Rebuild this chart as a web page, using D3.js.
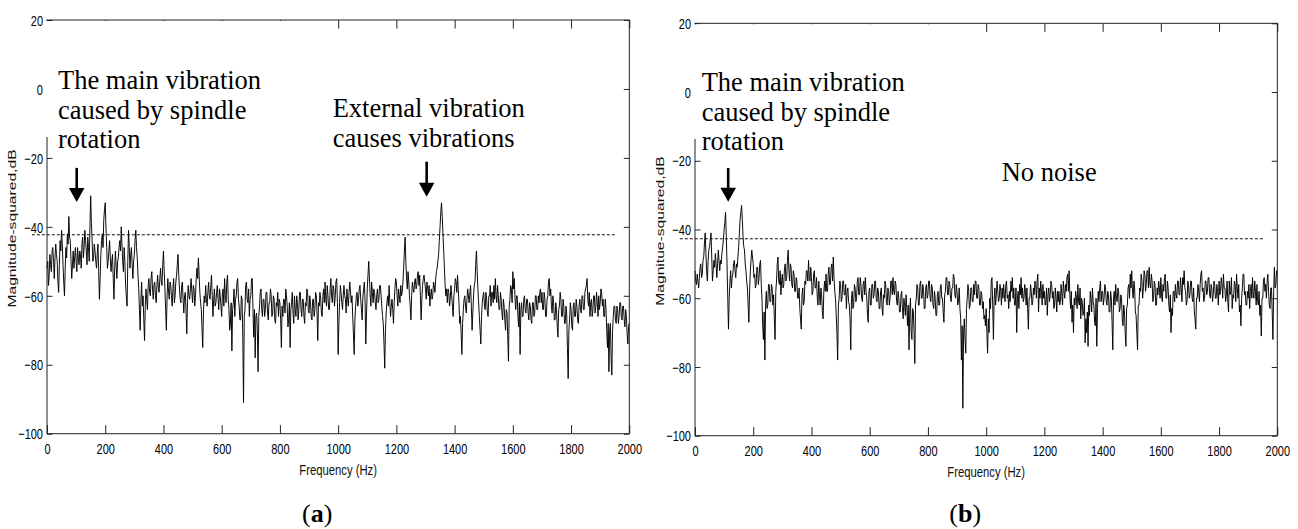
<!DOCTYPE html>
<html><head><meta charset="utf-8">
<script src="https://cdn.jsdelivr.net/npm/d3@7"></script>
<style>body{margin:0;background:#fff} svg{display:block}</style>
</head><body><svg id="c" width="1298" height="529"></svg>
<script>
// ---------- DATA ----------
const xTickValues = [0,200,400,600,800,1000,1200,1400,1600,1800,2000];
const yTickValues = [-100,-80,-60,-40,-20,0,20];
const freqStepHz = 2.5;         // spectrum bin spacing (Hz)
const xAxisTitle = "Frequency (Hz)";
const yAxisTitles = ["Magnitude-squared,dB", "Magnitue-squared,dB"];
const panelLetters = ["a", "b"];
const thresholdsDb = [-42.3, -42.7];
const thresholdSpanHz = [-52, 1955];

// panel (a): spindle + external vibration (dB), 0..2000 Hz
const spectrumA = [
-52,-50,-57,-54,-48,-51,-53,-47,-46,-50, -55,-49,-45,-48,-50,-56,-59,-51,-44,-47,
-41,-45,-51,-56,-60,-52,-46,-49,-42,-45, -37,-43,-44,-50,-55,-51,-47,-52,-49,-46,
-50,-53,-46,-49,-51,-47,-48,-52,-45,-43, -49,-46,-41,-44,-47,-51,-43,-46,-50,-40,
-31,-39,-44,-50,-49,-45,-47,-50,-52,-48, -45,-53,-61,-55,-48,-44,-42,-46,-38,-35,
-33,-40,-46,-52,-50,-47,-44,-49,-53,-50, -48,-55,-61,-52,-47,-51,-55,-50,-49,-46,
-44,-47,-40,-45,-50,-53,-46,-50,-57,-60, -63,-50,-41,-46,-52,-48,-46,-51,-55,-50,
-48,-44,-41,-46,-49,-54,-58,-64,-70,-61, -56,-63,-60,-67,-73,-63,-58,-61,-64,-57,
-55,-59,-60,-55,-53,-58,-61,-57,-56,-60, -62,-57,-54,-58,-59,-55,-52,-56,-57,-51,
-47,-53,-58,-64,-70,-60,-55,-59,-61,-56, -57,-60,-63,-58,-55,-62,-60,-56,-54,-51,
-48,-54,-58,-61,-62,-57,-56,-61,-65,-60, -59,-64,-71,-62,-57,-60,-61,-58,-55,-59,
-62,-57,-58,-63,-60,-55,-52,-55,-49,-54, -59,-62,-64,-70,-75,-64,-60,-62,-57,-61,
-63,-59,-56,-60,-61,-57,-54,-60,-66,-61, -58,-63,-62,-59,-57,-61,-64,-58,-60,-63,
-66,-59,-58,-63,-55,-60,-62,-56,-54,-61, -64,-70,-68,-62,-76,-64,-62,-58,-66,-61,
-60,-56,-55,-61,-63,-67,-67,-60,-61,-72, -91,-66,-64,-57,-56,-61,-62,-58,-66,-61,
-60,-55,-55,-64,-72,-64,-78,-66,-65,-70, -82,-66,-63,-59,-58,-64,-66,-61,-61,-66,
-64,-59,-59,-65,-67,-62,-62,-58,-60,-66, -65,-60,-61,-67,-68,-62,-63,-59,-66,-61,
-62,-67,-75,-63,-66,-61,-61,-65,-58,-60, -63,-69,-67,-62,-75,-64,-62,-59,-65,-68,
-60,-64,-66,-60,-62,-67,-64,-59,-59,-64, -66,-61,-61,-66,-68,-62,-63,-58,-59,-64,
-65,-60,-62,-66,-67,-61,-61,-66,-64,-59, -60,-65,-73,-62,-63,-59,-61,-65,-66,-60,
-58,-62,-56,-61,-63,-57,-60,-64,-64,-58, -55,-60,-62,-57,-58,-63,-60,-56,-55,-62,
-77,-68,-62,-57,-59,-62,-64,-60,-57,-60, -61,-65,-58,-61,-63,-59,-56,-59,-62,-60,
-66,-71,-77,-67,-63,-60,-59,-63,-61,-58, -57,-61,-64,-67,-60,-58,-56,-62,-74,-65,
-58,-54,-50,-55,-60,-63,-56,-59,-62,-58, -59,-62,-64,-60,-58,-62,-61,-57,-57,-60,
-63,-66,-68,-74,-81,-70,-65,-62,-60,-63, -57,-62,-66,-63,-61,-64,-68,-62,-58,-55,
-56,-60,-63,-58,-60,-62,-57,-60,-59,-56, -52,-47,-43,-50,-55,-58,-53,-56,-60,-63,
-67,-60,-56,-58,-59,-56,-55,-58,-57,-54, -53,-57,-54,-60,-67,-61,-57,-55,-54,-56,
-58,-61,-56,-58,-60,-57,-63,-60,-58,-61, -60,-56,-57,-59,-55,-53,-52,-50,-48,-44,
-40,-36,-33,-37,-42,-47,-52,-57,-60,-58, -62,-58,-59,-63,-61,-57,-60,-63,-66,-60,
-58,-55,-56,-59,-54,-58,-62,-68,-66,-71, -77,-68,-64,-61,-60,-63,-65,-61,-58,-60,
-62,-59,-57,-63,-70,-65,-60,-57,-56,-51, -47,-53,-58,-62,-66,-70,-74,-66,-62,-60,
-59,-63,-64,-59,-61,-65,-66,-60,-60,-57, -63,-59,-59,-62,-57,-61,-55,-60,-62,-57,
-60,-64,-64,-59,-61,-65,-67,-61,-63,-67, -70,-64,-65,-72,-79,-63,-61,-57,-58,-62,
-53,-58,-55,-61,-64,-60,-60,-66,-69,-62, -77,-64,-62,-66,-66,-61,-60,-64,-65,-61,
-61,-65,-67,-62,-63,-67,-68,-62,-62,-66, -65,-60,-60,-64,-64,-60,-62,-59,-58,-62,
-59,-64,-64,-59,-61,-66,-66,-61,-60,-56, -55,-60,-58,-63,-65,-60,-62,-67,-67,-62,
-64,-69,-72,-64,-63,-59,-61,-66,-66,-61, -63,-68,-68,-63,-65,-75,-84,-70,-67,-62,
-64,-69,-70,-63,-62,-66,-66,-61,-63,-67, -68,-63,-61,-64,-65,-60,-60,-64,-64,-59,
-58,-57,-55,-61,-63,-59,-66,-62,-61,-66, -64,-60,-60,-65,-63,-59,-62,-66,-60,-64,
-62,-58,-59,-63,-61,-66,-66,-61,-64,-70, -75,-68,-82,-70,-68,-78,-83,-70,-66,-63,
-63,-67,-68,-63,-64,-68,-66,-62,-62,-66, -67,-63,-63,-67,-69,-64,-66,-71,-74,-69,
-68
];

// panel (b): spindle only, no noise (dB), 0..2000 Hz
const spectrumB = [
-52,-55,-56,-53,-55,-57,-54,-51,-50,-54, -53,-49,-48,-44,-41,-47,-52,-55,-49,-46,
-45,-43,-41,-48,-55,-52,-49,-51,-47,-50, -54,-50,-46,-49,-52,-49,-50,-47,-45,-43,
-40,-38,-35,-42,-50,-60,-69,-60,-55,-52, -57,-54,-53,-50,-49,-52,-54,-50,-51,-48,
-45,-41,-37,-35,-33,-37,-42,-45,-46,-50, -52,-55,-57,-62,-67,-58,-52,-49,-46,-48,
-50,-54,-53,-57,-56,-51,-51,-56,-54,-50, -49,-56,-60,-68,-72,-64,-78,-62,-58,-63,
-62,-56,-56,-61,-61,-56,-57,-62,-59,-66, -72,-58,-55,-50,-48,-55,-56,-52,-59,-55,
-53,-57,-56,-51,-50,-55,-54,-49,-46,-52, -55,-50,-51,-56,-57,-52,-53,-58,-58,-54,
-55,-60,-60,-57,-63,-66,-69,-59,-57,-62, -61,-55,-56,-52,-52,-55,-49,-54,-55,-51,
-54,-59,-58,-53,-52,-57,-57,-54,-60,-62, -55,-59,-62,-57,-59,-64,-66,-58,-55,-58,
-53,-58,-58,-53,-51,-56,-56,-51,-50,-55, -48,-54,-58,-60,-65,-70,-78,-62,-60,-55,
-56,-61,-60,-55,-55,-59,-59,-56,-63,-58, -57,-61,-62,-66,-75,-60,-58,-63,-62,-56,
-57,-61,-60,-55,-54,-59,-59,-54,-56,-60, -61,-56,-55,-59,-54,-58,-60,-65,-67,-58,
-57,-62,-62,-56,-56,-60,-59,-55,-55,-60, -61,-57,-58,-63,-63,-58,-57,-63,-65,-59,
-60,-55,-56,-61,-62,-57,-58,-62,-60,-55, -55,-59,-54,-58,-59,-55,-56,-61,-62,-58,
-60,-64,-64,-59,-58,-63,-66,-60,-62,-65, -59,-63,-68,-62,-75,-64,-60,-70,-72,-63,
-64,-70,-79,-62,-60,-56,-57,-62,-62,-56, -55,-60,-60,-56,-58,-63,-63,-57,-56,-60,
-59,-55,-55,-60,-61,-56,-57,-62,-63,-58, -60,-65,-65,-59,-58,-62,-62,-57,-56,-60,
-60,-64,-67,-59,-58,-54,-54,-59,-59,-55, -56,-60,-61,-57,-57,-53,-54,-59,-60,-56,
-58,-62,-61,-57,-63,-66,-78,-68,-92,-70, -66,-72,-76,-63,-60,-56,-58,-63,-62,-57,
-57,-61,-61,-56,-59,-55,-55,-60,-60,-56, -57,-62,-62,-58,-59,-63,-61,-66,-65,-68,
-63,-70,-76,-66,-70,-60,-63,-55,-54,-62, -72,-60,-57,-62,-59,-55,-58,-61,-60,-56,
-58,-62,-57,-60,-56,-59,-61,-56,-55,-60, -59,-63,-58,-61,-55,-58,-54,-60,-57,-62,
-62,-57,-70,-60,-58,-63,-56,-59,-54,-60, -57,-61,-60,-56,-58,-62,-57,-63,-69,-60,
-60,-56,-58,-62,-61,-57,-59,-55,-56,-60, -55,-53,-64,-57,-60,-55,-58,-62,-56,-60,
-58,-62,-61,-57,-65,-59,-57,-61,-59,-55, -56,-60,-58,-63,-62,-57,-60,-64,-58,-61,
-58,-62,-61,-56,-59,-62,-55,-58,-60,-56, -58,-54,-53,-58,-52,-59,-63,-58,-67,-62,
-70,-60,-62,-58,-60,-63,-56,-61,-62,-57, -66,-60,-61,-65,-64,-60,-73,-66,-70,-64,
-74,-62,-65,-58,-60,-64,-57,-61,-62,-67, -68,-60,-74,-63,-58,-61,-57,-55,-61,-58,
-58,-62,-60,-56,-57,-61,-62,-58,-59,-64, -64,-58,-60,-67,-75,-60,-58,-62,-56,-60,
-61,-57,-58,-64,-63,-59,-60,-66,-68,-62, -64,-70,-74,-63,-62,-57,-56,-60,-53,-57,
-52,-58,-60,-55,-57,-64,-65,-70,-75,-62, -62,-57,-58,-53,-55,-60,-57,-52,-53,-58,
-56,-52,-52,-57,-51,-56,-57,-53,-55,-61, -60,-55,-56,-62,-62,-57,-59,-55,-57,-60,
-54,-59,-61,-56,-58,-54,-53,-60,-60,-55, -57,-62,-64,-59,-70,-63,-65,-58,-58,-61,
-56,-59,-60,-55,-55,-59,-59,-54,-57,-61, -54,-56,-52,-57,-58,-62,-61,-55,-56,-60,
-59,-55,-55,-60,-61,-57,-64,-66,-69,-60, -60,-56,-58,-61,-56,-53,-52,-58,-57,-61,
-60,-55,-55,-59,-58,-54,-54,-59,-60,-56, -57,-61,-59,-55,-56,-60,-60,-56,-58,-62,
-55,-59,-58,-54,-56,-60,-53,-57,-57,-61, -59,-55,-61,-64,-55,-59,-58,-54,-63,-59,
-60,-55,-56,-61,-53,-57,-60,-56,-64,-62, -68,-60,-57,-53,-53,-59,-58,-62,-62,-58,
-60,-56,-63,-58,-56,-60,-54,-59,-60,-55, -58,-62,-56,-61,-62,-58,-65,-62,-71,-60,
-60,-55,-54,-58,-56,-60,-55,-53,-58,-62, -63,-57,-57,-64,-72,-58,-51,-57,-56,-52,
-53
];

// annotation texts
const notesA = [
  ["The main vibration", "caused by spindle", "rotation"],
  ["External vibration", "causes vibrations"]
];
const notesB = [
  ["The main vibration", "caused by spindle", "rotation"],
  ["No noise"]
];

// ---------- LAYOUT ----------
const svg = d3.select("#c");
const SANS = "'Liberation Sans', Arial, Helvetica, sans-serif";
const SERIF = "'Liberation Serif', 'Times New Roman', serif";
const VS = 1.36; // vertical stretch of the axis fonts in the original picture

const panels = [
  {left:47, right:629.3, top:20, bottom:433.7, data:spectrumA, thr:thresholdsDb[0],
   yTitle:yAxisTitles[0], yTitleX:16, yTitleY:228.5, letter:panelLetters[0],
   mask:{x0:45.5, x1:300, y0:21, y1:137},
   notes:[{lines:notesA[0], x:58, y:[88.5,118.5,148]},
          {lines:notesA[1], x:332.7, y:[117,146.7]}],
   arrows:[{f:102, from:-22.9, to:-32.8},{f:1304, from:-21.1, to:-31.3}]},
  {left:695, right:1277.3, top:23.3, bottom:435.7, data:spectrumB, thr:thresholdsDb[1],
   yTitle:yAxisTitles[1], yTitleX:664, yTitleY:231, letter:panelLetters[1],
   mask:{x0:693.5, x1:950, y0:24.3, y1:139},
   notes:[{lines:notesB[0], x:701.7, y:[90.5,120.5,150]},
          {lines:notesB[1], x:1001.7, y:[180.5]}],
   arrows:[{f:114, from:-22.1, to:-31.9}]}
];

panels.forEach(p => {
  const x = d3.scaleLinear().domain([0, 2000]).range([p.left, p.right]);
  const y = d3.scaleLinear().domain([-100, 20]).range([p.bottom, p.top]);
  const g = svg.append("g");

  // spectrum line
  const line = d3.line().x((d, i) => x(i * freqStepHz)).y(d => y(d));
  g.append("path").datum(p.data).attr("d", line)
    .attr("fill", "none").attr("stroke", "#000").attr("stroke-width", 0.95);

  // axes with inward ticks on all four sides
  const styleAxis = sel => { sel.select(".domain").remove();
    sel.selectAll(".tick line").attr("stroke", "#222").attr("stroke-width", 1); };

  const bottom = g.append("g").attr("transform", `translate(0,${p.bottom})`)
    .call(d3.axisBottom(x).tickValues(xTickValues).tickSizeInner(-8.5).tickSizeOuter(0).tickFormat(d3.format("d")));
  styleAxis(bottom);
  bottom.selectAll(".tick text").attr("y", 0).attr("dy", 0)
    .attr("transform", `translate(0,20.3) scale(1,${VS})`)
    .attr("font-family", SANS).attr("font-size", 11).attr("fill", "#000");

  const top = g.append("g").attr("transform", `translate(0,${p.top})`)
    .call(d3.axisTop(x).tickValues(xTickValues).tickSizeInner(-8.5).tickSizeOuter(0).tickFormat(""));
  styleAxis(top);

  const leftAx = g.append("g").attr("transform", `translate(${p.left},0)`)
    .call(d3.axisLeft(y).tickValues(yTickValues).tickSizeInner(-5.5).tickSizeOuter(0).tickFormat(d3.format("d")));
  styleAxis(leftAx);
  leftAx.selectAll(".tick text").attr("x", 0).attr("dy", 0).attr("y", 0)
    .attr("transform", `translate(-4,5.2) scale(1,${VS})`)
    .attr("font-family", SANS).attr("font-size", 11).attr("fill", "#000");

  const rightAx = g.append("g").attr("transform", `translate(${p.right},0)`)
    .call(d3.axisRight(y).tickValues(yTickValues).tickSizeInner(-5.5).tickSizeOuter(0).tickFormat(""));
  styleAxis(rightAx);

  // box
  g.append("rect").attr("x", p.left).attr("y", p.top)
    .attr("width", p.right - p.left).attr("height", p.bottom - p.top)
    .attr("fill", "none").attr("stroke", "#222").attr("stroke-width", 1);

  // threshold dashed line
  g.append("line")
    .attr("x1", x(thresholdSpanHz[0])).attr("x2", x(thresholdSpanHz[1]))
    .attr("y1", y(p.thr)).attr("y2", y(p.thr))
    .attr("stroke", "#111").attr("stroke-width", 1).attr("stroke-dasharray", "3,2");

  // axis titles
  g.append("text").text(xAxisTitle)
    .attr("transform", `translate(${(p.left + p.right) / 2},${p.bottom + 41}) scale(1,${VS})`)
    .attr("text-anchor", "middle").attr("font-family", SANS).attr("font-size", 11.3).attr("fill", "#111");
  g.append("text").text(p.yTitle)
    .attr("transform", `translate(${p.yTitleX},${p.yTitleY}) rotate(-90) scale(${VS},1)`)
    .attr("text-anchor", "middle").attr("font-family", SANS).attr("font-size", 11.5).attr("fill", "#111");

  // white text box of the annotation (hides the axis line under it)
  g.append("rect").attr("x", p.mask.x0).attr("y", p.mask.y0)
    .attr("width", p.mask.x1 - p.mask.x0).attr("height", p.mask.y1 - p.mask.y0)
    .attr("fill", "#fff");

  // annotation texts
  p.notes.forEach(n => {
    n.lines.forEach((t, i) => {
      g.append("text").text(t).attr("x", n.x).attr("y", n.y[i])
        .attr("font-family", SERIF).attr("font-size", 26.5).attr("fill", "#000");
    });
  });

  // arrows
  p.arrows.forEach(a => {
    const ax = x(a.f), y0 = y(a.from), yTip = y(a.to), headLen = 14, half = 7.8;
    g.append("line").attr("x1", ax).attr("x2", ax).attr("y1", y0).attr("y2", yTip - headLen + 1)
      .attr("stroke", "#000").attr("stroke-width", 2.6);
    g.append("path")
      .attr("d", `M${ax - half},${yTip - headLen} L${ax + half},${yTip - headLen} L${ax},${yTip} Z`)
      .attr("fill", "#000");
  });

  // panel letter
  const lab = svg.append("text").attr("x", (p.left + p.right) / 2 - 21).attr("y", 522)
    .attr("text-anchor", "middle").attr("font-family", SERIF).attr("font-size", 26).attr("fill", "#000");
  lab.append("tspan").text("(");
  lab.append("tspan").text(p.letter).attr("font-weight", "bold");
  lab.append("tspan").text(")");
});
</script>
</body></html>
